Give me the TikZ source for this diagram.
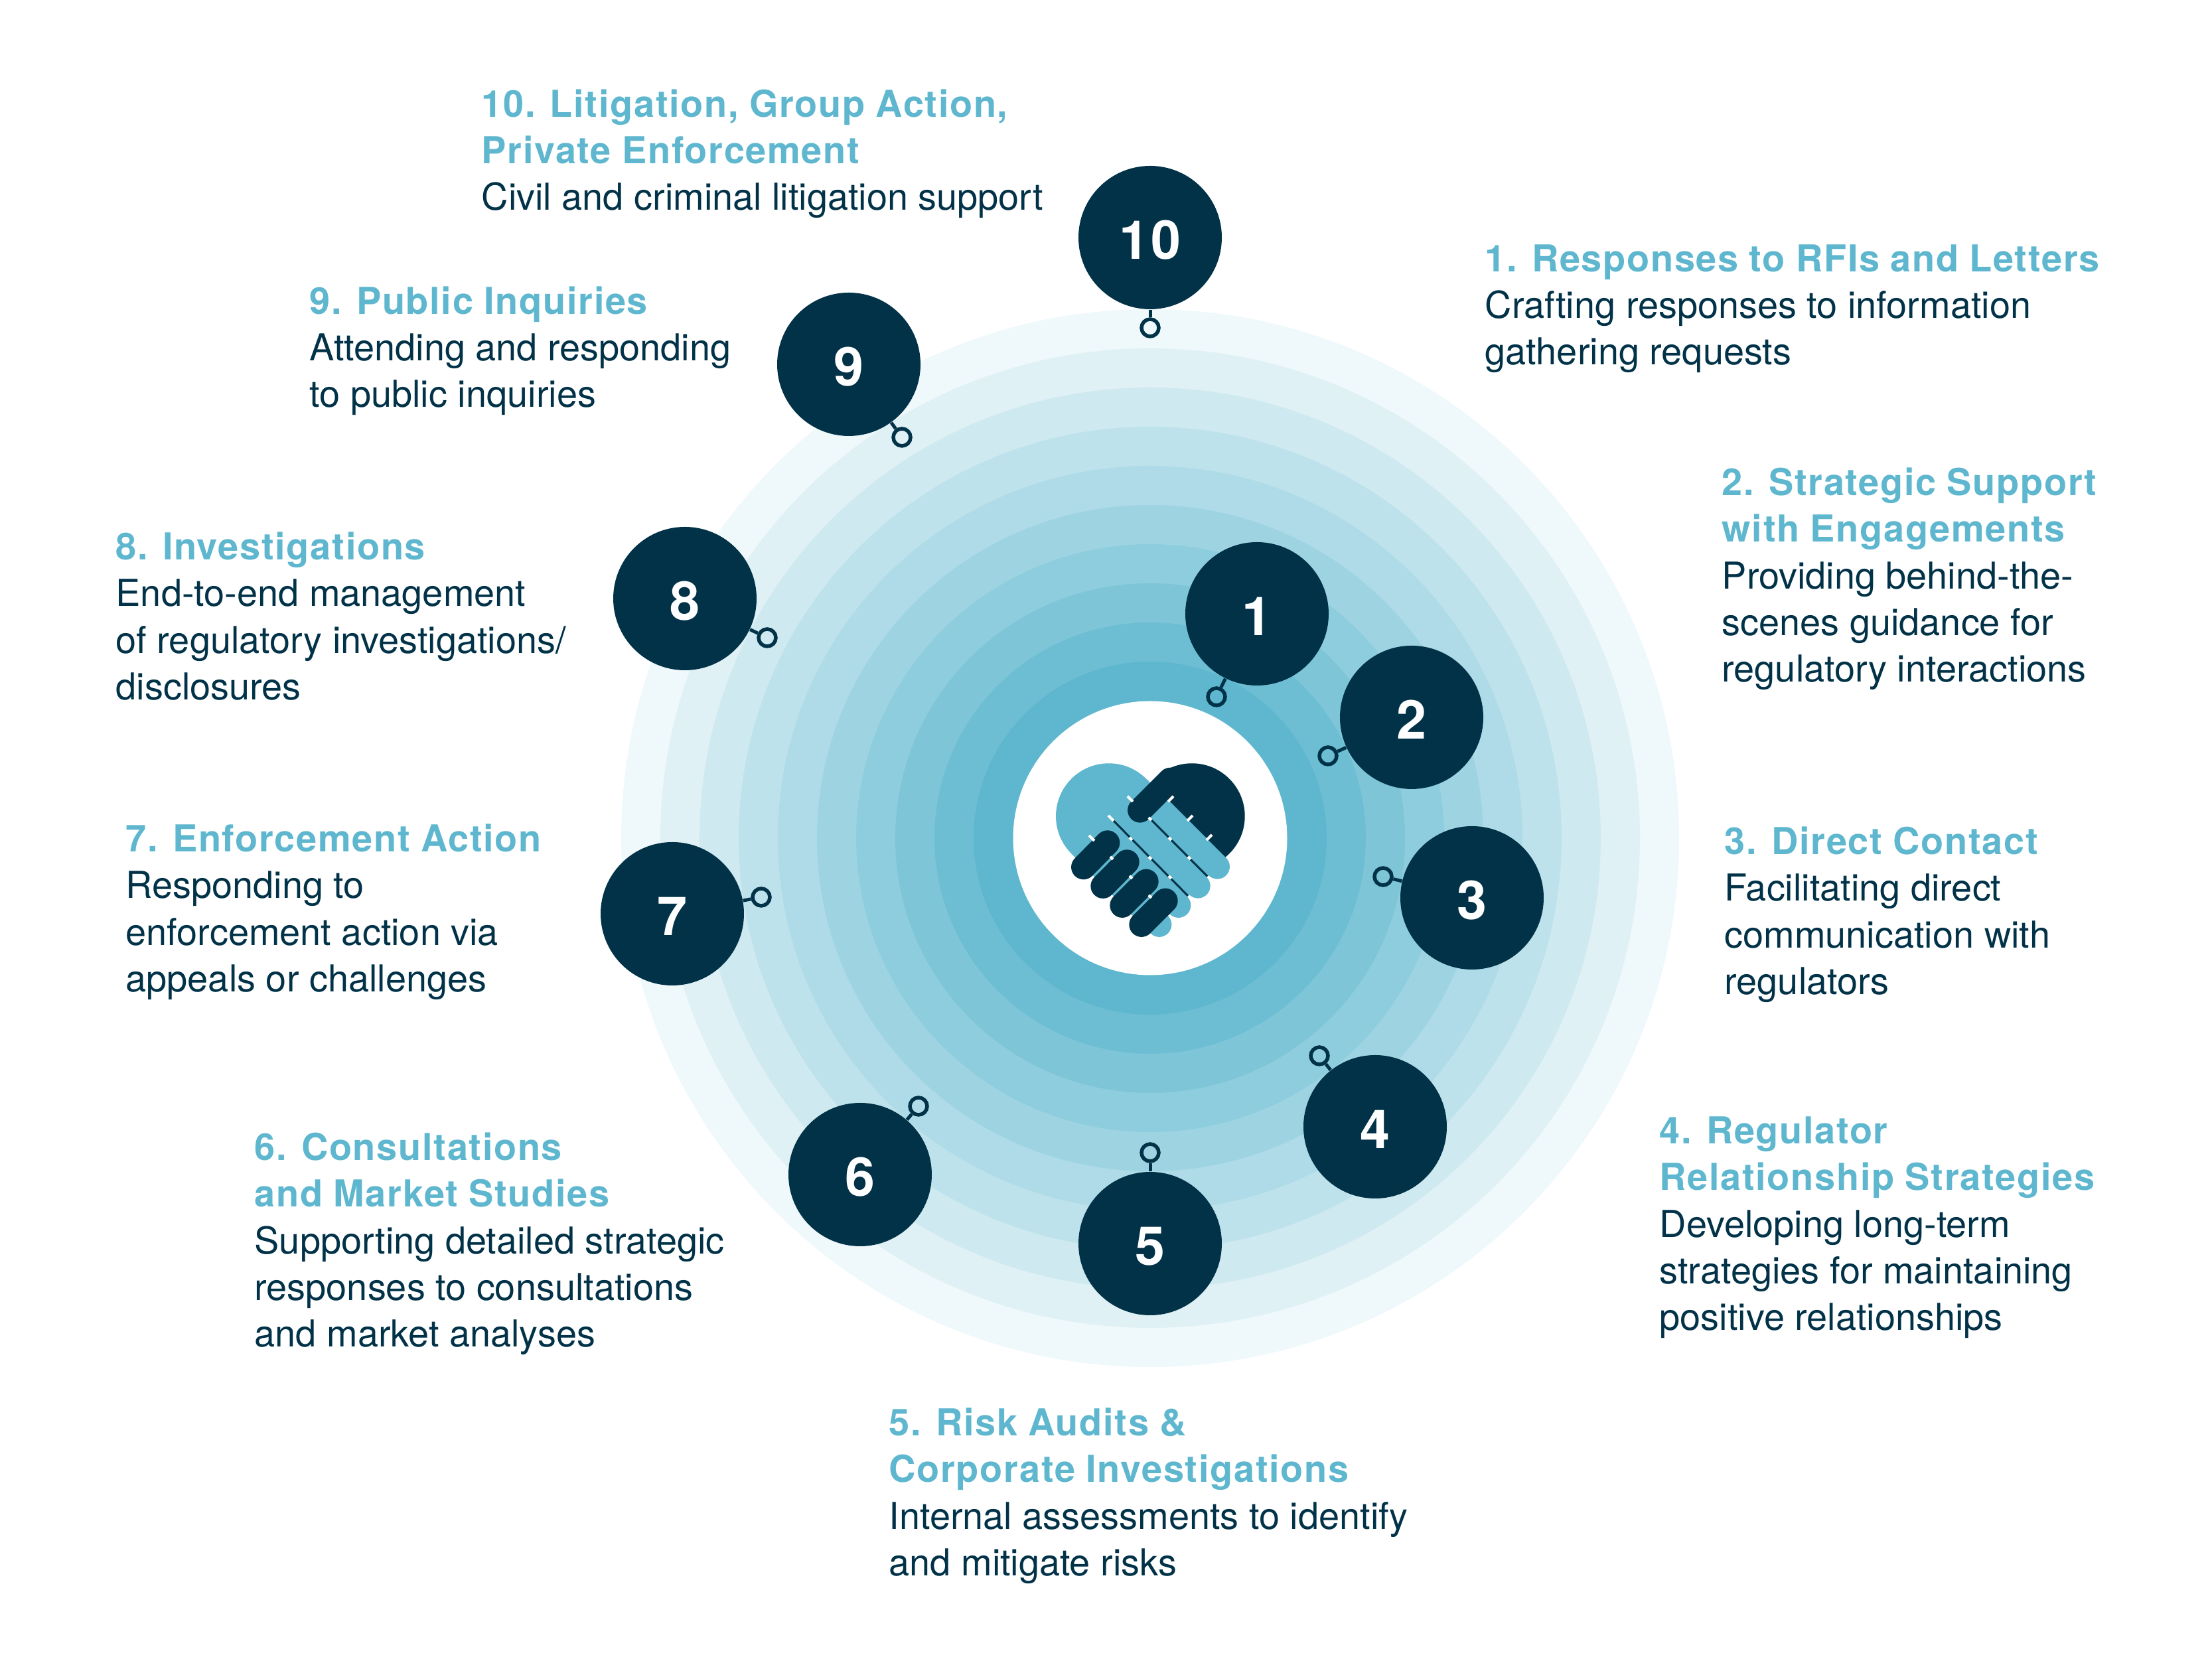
\documentclass[tikz,border=0pt]{standalone}
\usepackage{fontspec}
\setmainfont{TeX Gyre Heros}
\newfontfamily\headfont[LetterSpace=3,WordSpace=0.95]{TeX Gyre Heros}
\usepackage{tikz}

\definecolor{tealc}{HTML}{5EB7CE}
\definecolor{darkc}{HTML}{023248}
\newcommand{\headtxt}[1]{{\color{tealc}\headfont\bfseries #1}}

\tikzset{
    numnode/.style={circle, fill=darkc, text=white, minimum size=2.16cm, inner sep=0pt, text height=0.65cm, text depth=0pt, font=\headfont\bfseries\fontsize{23}{23}\selectfont},
    pinnode/.style={circle, draw=darkc, line width=0.055cm, minimum size=0.26cm, inner sep=0pt},
    pinline/.style={draw=darkc, line width=0.05cm},
    labelnode/.style={anchor=base west, align=left, inner sep=0pt, text=darkc, font=\fontsize{15.9}{20.05}\selectfont},
    handbar/.style={line width=0.373cm, line cap=round},
    handtick/.style={draw=white, line width=0.04cm},
    handgap/.style={draw=darkc, line width=0.03cm}
}

\begin{document}
\begin{tikzpicture}
        \useasboundingbox (0,0) rectangle (33.33,25);

        \fill[tealc!10!white] (17.33,12.37) circle (7.97);
        \fill[tealc!20!white] (17.33,12.37) circle (7.38);
        \fill[tealc!30!white] (17.33,12.37) circle (6.79);
        \fill[tealc!40!white] (17.33,12.37) circle (6.20);
        \fill[tealc!50!white] (17.33,12.37) circle (5.61);
        \fill[tealc!60!white] (17.33,12.37) circle (5.02);
        \fill[tealc!70!white] (17.33,12.37) circle (4.43);
        \fill[tealc!80!white] (17.33,12.37) circle (3.84);
        \fill[tealc!90!white] (17.33,12.37) circle (3.25);
        \fill[tealc] (17.33,12.37) circle (2.66);
        \fill[white] (17.33,12.37) circle (2.065);

        \fill[darkc] (17.96,12.70) circle (0.797);
        \fill[tealc] (16.707,12.70) circle (0.797);
        \fill[tealc] (16.143,12.137) -- (17.27,13.263) -- (18.473,12.07) -- (18.343,11.94) -- (18.05,11.65)
            -- (17.757,11.357) -- (17.467,11.067) -- (17.333,10.933) -- cycle;
        \draw[handbar, tealc] (18.343,11.94) -- (17.467,12.817);
        \draw[handbar, tealc] (18.05,11.65) -- (17.017,12.683);
        \draw[handbar, tealc] (17.757,11.357) -- (17.0,12.1);
        \draw[handbar, tealc] (17.467,11.067) -- (17.0,11.53);
        \draw[handgap] (16.75,12.66) -- (17.90,11.50);
        \draw[handgap] (17.333,12.66) -- (18.193,11.793);
        \draw[handbar, darkc] (17.177,12.79) -- (17.633,13.246);
        \draw[handbar, darkc] (16.327,11.933) -- (16.687,12.30);
        \draw[handbar, darkc] (16.62,11.647) -- (16.98,12.01);
        \draw[handbar, darkc] (16.91,11.357) -- (17.27,11.717);
        \draw[handbar, darkc] (17.20,11.067) -- (17.56,11.427);
        \draw[handtick] (16.99,13.00) -- ++(0.08,-0.08) (16.70,12.71) -- ++(0.08,-0.08) (16.41,12.41) -- ++(0.08,-0.08);
        \draw[handtick] (17.60,12.92) -- ++(0.08,0.08) (17.89,12.63) -- ++(0.08,0.08) (18.18,12.34) -- ++(0.08,0.08);
        \draw[handtick] (17.31,12.68) -- ++(0.04,-0.04) (17.61,12.38) -- ++(0.04,-0.04) (17.90,12.09) -- ++(0.04,-0.04);
        \draw[handtick] (17.02,12.38) -- ++(0.04,-0.04) (17.31,12.09) -- ++(0.04,-0.04) (17.61,11.80) -- ++(0.04,-0.04);
        \draw[handtick] (16.73,12.09) -- ++(0.04,-0.04) (17.02,11.80) -- ++(0.04,-0.04) (17.31,11.51) -- ++(0.04,-0.04);

        \node[numnode] (n1) at (18.94,15.75) {1};
        \node[numnode] (n2) at (21.27,14.19) {2};
        \node[numnode] (n3) at (22.18,11.47) {3};
        \node[numnode] (n4) at (20.72,8.02) {4};
        \node[numnode] (n5) at (17.33,6.26) {5};
        \node[numnode] (n6) at (12.96,7.30) {6};
        \node[numnode] (n7) at (10.13,11.23) {7};
        \node[numnode] (n8) at (10.32,15.98) {8};
        \node[numnode] (n9) at (12.79,19.51) {9};
        \node[numnode] (n10) at (17.33,21.42) {10};

        \node[pinnode] (p1) at (18.33,14.50) {};
        \node[pinnode] (p2) at (20.01,13.61) {};
        \node[pinnode] (p3) at (20.84,11.79) {};
        \node[pinnode] (p4) at (19.88,9.09) {};
        \node[pinnode] (p5) at (17.33,7.63) {};
        \node[pinnode] (p6) at (13.84,8.33) {};
        \node[pinnode] (p7) at (11.47,11.48) {};
        \node[pinnode] (p8) at (11.56,15.39) {};
        \node[pinnode] (p9) at (13.59,18.41) {};
        \node[pinnode] (p10) at (17.33,20.06) {};

        \draw[pinline] (n1) -- (p1);
        \draw[pinline] (n2) -- (p2);
        \draw[pinline] (n3) -- (p3);
        \draw[pinline] (n4) -- (p4);
        \draw[pinline] (n5) -- (p5);
        \draw[pinline] (n6) -- (p6);
        \draw[pinline] (n7) -- (p7);
        \draw[pinline] (n8) -- (p8);
        \draw[pinline] (n9) -- (p9);
        \draw[pinline] (n10) -- (p10);

        \node[labelnode] (lab1) at (22.37,19.50) {\headtxt{1. Responses to RFIs and Letters}\\Crafting responses to information\\gathering requests};
        \node[labelnode] (lab2) at (25.94,14.72) {\headtxt{2. Strategic Support}\\\headtxt{with Engagements}\\Providing behind-the-\\scenes guidance for\\regulatory interactions};
        \node[labelnode] (lab3) at (25.98,10.015) {\headtxt{3. Direct Contact}\\Facilitating direct\\communication with\\regulators};
        \node[labelnode] (lab4) at (25.00,4.95) {\headtxt{4. Regulator}\\\headtxt{Relationship Strategies}\\Developing long-term\\strategies for maintaining\\positive relationships};
        \node[labelnode] (lab5) at (13.39,1.255) {\headtxt{5. Risk Audits \&}\\\headtxt{Corporate Investigations}\\Internal assessments to identify\\and mitigate risks};
        \node[labelnode] (lab6) at (3.83,4.70) {\headtxt{6. Consultations}\\\headtxt{and Market Studies}\\Supporting detailed strategic\\responses to consultations\\and market analyses};
        \node[labelnode] (lab7) at (1.89,10.055) {\headtxt{7. Enforcement Action}\\Responding to\\enforcement action via\\appeals or challenges};
        \node[labelnode] (lab8) at (1.74,14.455) {\headtxt{8. Investigations}\\End-to-end management\\of regulatory investigations/\\disclosures};
        \node[labelnode] (lab9) at (4.66,18.86) {\headtxt{9. Public Inquiries}\\Attending and responding\\to public inquiries};
        \node[labelnode] (lab10) at (7.25,21.83) {\headtxt{10. Litigation, Group Action,}\\\headtxt{Private Enforcement}\\Civil and criminal litigation support};
\end{tikzpicture}
\end{document}
